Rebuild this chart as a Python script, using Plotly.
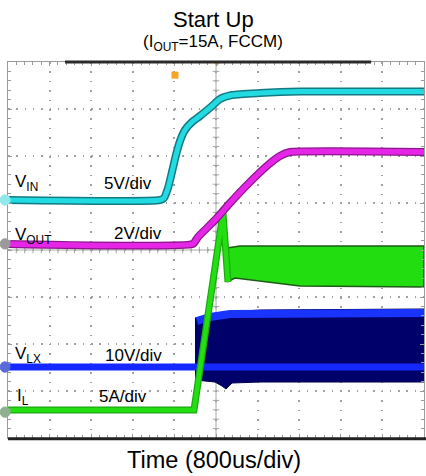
import numpy as np
import plotly.graph_objects as go

# Oscilloscope capture, x in divisions (800us/div), y in screen divisions (0..8)
vin_t = [0, 3.654, 3.75, 3.846, 3.942, 4.038, 4.135, 4.255, 4.423, 4.615, 4.904, 5.096, 5.385, 6.058, 7.019, 10]
vin_v = [5.064, 5.064, 5.106, 5.319, 5.660, 6.021, 6.319, 6.553, 6.723, 6.851, 7.064, 7.213, 7.298, 7.340, 7.370, 7.370]

vout_t = [0, 4.447, 4.567, 5.0, 5.337, 5.817, 6.25, 6.538, 6.779, 10]
vout_v = [4.13, 4.13, 4.277, 4.660, 5.0, 5.447, 5.809, 6.0, 6.085, 6.085]

il_t = [0, 4.471, 5.168, 5.288]
il_v = [0.596, 0.596, 4.787, 3.319]
il_hi_t = [5.264, 5.577, 10]
il_hi_v = [4.043, 4.085, 4.085]
il_lo_t = [5.264, 5.457, 6.058, 7.019, 10]
il_lo_v = [3.319, 3.404, 3.340, 3.234, 3.213]

vlx_t = [0, 10]
vlx_v = [1.511, 1.511]
vlx_top_t = [4.495, 4.736, 5.216, 6.058, 10]
vlx_top_v = [2.553, 2.596, 2.681, 2.723, 2.745]
vlx_bot_t = [4.495, 4.976, 5.144, 5.240, 5.385, 6.058, 10]
vlx_bot_v = [1.234, 1.191, 1.106, 1.043, 1.170, 1.191, 1.191]
vlx_high_t = [4.543, 4.856, 5.337, 10]
vlx_high_v = [2.489, 2.574, 2.638, 2.660]

ch_marker_v = [5.064, 4.13, 1.511, 0.55]
ch_marker_col = ["#8fe8ec", "#9a9a9a", "#5a6ad8", "#8fb08f"]

labels = ["V<sub>IN</sub>", "5V/div", "V<sub>OUT</sub>", "2V/div",
          "V<sub>LX</sub>", "10V/div", "I<sub>L</sub>", "5A/div"]
label_x = [0.12, 2.26, 0.12, 2.50, 0.12, 2.28, 0.16, 2.14]
label_y = [5.42, 5.42, 4.30, 4.36, 1.76, 1.76, 0.88, 0.88]

FONT = "Liberation Sans, Arial, sans-serif"

fig = go.Figure()

# VLX switching band
band_x = vlx_top_t + vlx_bot_t[::-1]
band_y = vlx_top_v + vlx_bot_v[::-1]
fig.add_trace(go.Scatter(x=band_x, y=band_y, fill="toself", fillcolor="#00006a",
                         line=dict(color="#000050", width=1), mode="lines", hoverinfo="skip"))
fig.add_trace(go.Scatter(x=vlx_t, y=vlx_v, mode="lines", line=dict(color="#1428ff", width=7)))
fig.add_trace(go.Scatter(x=vlx_high_t, y=vlx_high_v, mode="lines", line=dict(color="#1a34ff", width=8)))

# IL ripple band
gb_x = il_hi_t + il_lo_t[::-1]
gb_y = il_hi_v + il_lo_v[::-1]
fig.add_trace(go.Scatter(x=gb_x, y=gb_y, fill="toself", fillcolor="#22dd10",
                         line=dict(color="#1f5a18", width=1.5), mode="lines"))
fig.add_trace(go.Scatter(x=il_t, y=il_v, mode="lines", line=dict(color="#1fa814", width=7)))
fig.add_trace(go.Scatter(x=il_t, y=il_v, mode="lines", line=dict(color="#22e010", width=4.5)))

# VIN
fig.add_trace(go.Scatter(x=vin_t, y=vin_v, mode="lines",
                         line=dict(color="#137a84", width=8, shape="spline", smoothing=0.6)))
fig.add_trace(go.Scatter(x=vin_t, y=vin_v, mode="lines",
                         line=dict(color="#22dbe2", width=5, shape="spline", smoothing=0.6)))

# VOUT
fig.add_trace(go.Scatter(x=vout_t, y=vout_v, mode="lines",
                         line=dict(color="#8c168c", width=8, shape="spline", smoothing=0.4)))
fig.add_trace(go.Scatter(x=vout_t, y=vout_v, mode="lines",
                         line=dict(color="#e626e6", width=5.5, shape="spline", smoothing=0.4)))

# trigger markers
fig.add_trace(go.Scatter(x=[4.014], y=[7.72], mode="markers",
                         marker=dict(symbol="square", size=7, color="#f2a526"), cliponaxis=False))
fig.add_trace(go.Scatter(x=[5.02], y=[7.98], mode="markers",
                         marker=dict(symbol="triangle-down", size=7, color="#f2a526"), cliponaxis=False))

shapes = []
# center crosshair
shapes.append(dict(type="line", xref="x", yref="y", x0=5, x1=5, y0=0, y1=8,
                   line=dict(color="#a8a8a8", width=1), layer="below"))
shapes.append(dict(type="line", xref="x", yref="y", x0=0, x1=10, y0=4, y1=4,
                   line=dict(color="#a8a8a8", width=1), layer="below"))
for yy in np.arange(0.2, 8, 0.2):
    shapes.append(dict(type="line", xref="x", yref="y", x0=4.92, x1=5.08, y0=yy, y1=yy,
                       line=dict(color="#a8a8a8", width=1), layer="below"))
for xx in np.arange(0.2, 10, 0.2):
    shapes.append(dict(type="line", xref="x", yref="y", x0=xx, x1=xx, y0=3.93, y1=4.07,
                       line=dict(color="#a8a8a8", width=1), layer="below"))
# top record bar and bottom border
shapes.append(dict(type="line", xref="paper", yref="paper", x0=0.137, x1=0.873, y0=1.0, y1=1.0,
                   line=dict(color="#2a2a2a", width=3)))
shapes.append(dict(type="line", xref="paper", yref="paper", x0=0, x1=1.01, y0=-0.002, y1=-0.002,
                   line=dict(color="#222222", width=3)))
# channel markers at the left edge
for v, c in zip(ch_marker_v, ch_marker_col):
    shapes.append(dict(type="circle", xref="paper", yref="y", x0=-0.019, x1=0.005,
                       y0=v - 0.11, y1=v + 0.11, fillcolor=c, line=dict(color=c, width=1)))

annotations = [
    dict(text="Start Up", xref="paper", yref="paper", x=0.493, y=1.113, showarrow=False,
         font=dict(family=FONT, size=22, color="#000"), xanchor="center", yanchor="middle"),
    dict(text="(I<sub>OUT</sub>=15A, FCCM)", xref="paper", yref="paper", x=0.493, y=1.05,
         showarrow=False, font=dict(family=FONT, size=17, color="#000"),
         xanchor="center", yanchor="middle"),
    dict(text="Time (800us/div)", xref="paper", yref="paper", x=0.494, y=-0.058,
         showarrow=False, font=dict(family=FONT, size=23.5, color="#000"),
         xanchor="center", yanchor="middle"),
]
for t, lx, ly in zip(labels, label_x, label_y):
    annotations.append(dict(text=t, x=lx, y=ly, xref="x", yref="y", showarrow=False,
                            xanchor="left", yanchor="middle",
                            font=dict(family=FONT, size=17, color="#000")))

axis_common = dict(showticklabels=False, zeroline=False, showline=True, linecolor="#9a9a9a",
                   linewidth=1, mirror="allticks", ticks="inside", ticklen=4,
                   tickcolor="#9a9a9a", dtick=1, fixedrange=True,
                   minor=dict(ticks="inside", ticklen=3, tickcolor="#9a9a9a", dtick=0.2, showgrid=False))

fig.update_layout(
    width=426, height=476,
    margin=dict(l=8, r=2, t=62, b=38),
    paper_bgcolor="white", plot_bgcolor="white",
    font=dict(family=FONT, size=17, color="#000"),
    showlegend=False,
    xaxis=dict(range=[0, 10], showgrid=True, gridcolor="#a0a0a0", gridwidth=1.5,
               griddash="1.5px,7.9px", **axis_common),
    yaxis=dict(range=[0, 8], showgrid=True, gridcolor="#a0a0a0", gridwidth=1.5,
               griddash="1.5px,6.8px", **axis_common),
    shapes=shapes,
    annotations=annotations,
)

fig.write_html("out.html")
